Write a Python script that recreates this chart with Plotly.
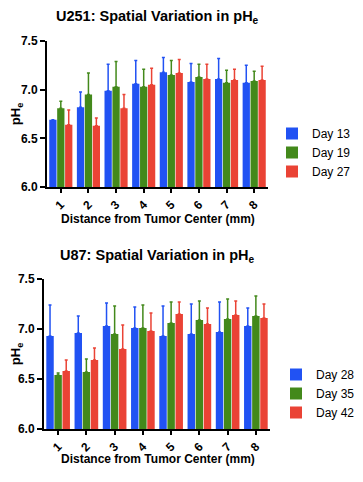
import plotly.graph_objects as go

categories = [1, 2, 3, 4, 5, 6, 7, 8]
tick_labels = ["1", "2", "3", "4", "5", "6", "7", "8"]

# U251 (top)
u251_names = ["Day 13", "Day 19", "Day 27"]
u251_d13 = [6.69, 6.82, 6.99, 7.06, 7.18, 7.08, 7.11, 7.07]
u251_d13_err = [0.00, 0.155, 0.27, 0.24, 0.15, 0.19, 0.21, 0.18]
u251_d19 = [6.81, 6.95, 7.03, 7.03, 7.15, 7.13, 7.07, 7.09]
u251_d19_err = [0.07, 0.22, 0.26, 0.18, 0.15, 0.13, 0.13, 0.10]
u251_d27 = [6.64, 6.63, 6.81, 7.05, 7.17, 7.11, 7.10, 7.10]
u251_d27_err = [0.15, 0.08, 0.14, 0.17, 0.14, 0.15, 0.11, 0.14]

# U87 (bottom)
u87_names = ["Day 28", "Day 35", "Day 42"]
u87_d28 = [6.93, 6.96, 7.03, 7.01, 6.93, 6.95, 6.97, 7.03]
u87_d28_err = [0.31, 0.17, 0.23, 0.21, 0.30, 0.30, 0.30, 0.18]
u87_d35 = [6.54, 6.57, 6.95, 7.01, 7.06, 7.09, 7.10, 7.13]
u87_d35_err = [0.02, 0.13, 0.28, 0.23, 0.21, 0.19, 0.20, 0.20]
u87_d42 = [6.58, 6.69, 6.80, 6.98, 7.15, 7.05, 7.14, 7.11]
u87_d42_err = [0.11, 0.12, 0.24, 0.18, 0.12, 0.16, 0.14, 0.14]

x_title = "Distance from Tumor Center (mm)"
y_title = "pH<sub>e</sub>"
titles = ["U251: Spatial Variation in pH<sub>e</sub>", "U87: Spatial Variation in pH<sub>e</sub>"]

colors = ["#2152F3", "#43891B", "#EA4335"]

# page has an 8px body margin: the figure fills the window inside it
OFF = 8
W, H = 363 - 2 * OFF, 482 - 2 * OFF

def fx(px):
    return (px - OFF) / W

def fy(py):
    return 1 - (py - OFF) / H

fig = go.Figure()

def add_series(vals, errs, name, color, xa, ya, legend):
    fig.add_trace(go.Bar(
        x=categories, y=vals, name=name, marker_color=color,
        marker_line_width=0, xaxis=xa, yaxis=ya, legend=legend,
        error_y=dict(type="data", symmetric=False, array=errs,
                     arrayminus=[0] * len(errs), color=color,
                     thickness=1.5, width=1.5),
    ))

top = [(u251_d13, u251_d13_err), (u251_d19, u251_d19_err), (u251_d27, u251_d27_err)]
bot = [(u87_d28, u87_d28_err), (u87_d35, u87_d35_err), (u87_d42, u87_d42_err)]
for (v, e), n, c in zip(top, u251_names, colors):
    add_series(v, e, n, c, "x", "y", "legend")
for (v, e), n, c in zip(bot, u87_names, colors):
    add_series(v, e, n, c, "x2", "y2", "legend2")

font = "Liberation Sans, Arial, sans-serif"
tickfont = dict(family=font, size=12, color="black", weight="bold")

def yaxis(domain, anchor):
    return dict(domain=domain, anchor=anchor, range=[6.0, 7.5], automargin=False,
                tickvals=[6.0, 6.5, 7.0, 7.5], ticktext=["6.0", "6.5", "7.0", "7.5"],
                showline=True, linecolor="black", linewidth=2,
                ticks="outside", ticklen=5, tickwidth=2, tickcolor="black",
                showgrid=False, zeroline=False, tickfont=tickfont,
                title=dict(text=y_title, font=dict(family=font, size=13, color="black", weight="bold"),
                           standoff=6))

def xaxis(domain, anchor):
    return dict(domain=domain, anchor=anchor, range=[0.5, 8.5], automargin=False,
                tickvals=categories, ticktext=tick_labels, tickangle=-45,
                showline=True, linecolor="black", linewidth=2,
                ticks="outside", ticklen=4, tickwidth=2, tickcolor="black",
                showgrid=False, zeroline=False, tickfont=tickfont)

leg_font = dict(family=font, size=12, color="black")

def ann(text, x, y, size):
    return dict(text=text, x=fx(x), y=fy(y), xref="paper", yref="paper",
                showarrow=False, yanchor="middle", xanchor="center",
                font=dict(family=font, size=size, color="black", weight="bold"))

fig.update_layout(
    template="none",
    width=W, height=H,
    margin=dict(l=0, r=0, t=0, b=0, pad=0, autoexpand=False),
    paper_bgcolor="white", plot_bgcolor="white",
    barmode="group", bargap=0.14, bargroupgap=0.08,
    showlegend=True,
    xaxis=xaxis([fx(47), fx(268)], "y"),
    yaxis=yaxis([fy(187), fy(41)], "x"),
    xaxis2=xaxis([fx(44), fx(270)], "y2"),
    yaxis2=yaxis([fy(429), fy(279)], "x2"),
    legend=dict(x=fx(272), y=fy(119), xanchor="left", yanchor="top",
                font=leg_font, bgcolor="rgba(0,0,0,0)", tracegroupgap=0,
                itemwidth=30),
    legend2=dict(x=fx(276), y=fy(360), xanchor="left", yanchor="top",
                 font=leg_font, bgcolor="rgba(0,0,0,0)", tracegroupgap=0,
                 itemwidth=30),
    annotations=[
        ann(titles[0], 157, 17, 14.5),
        ann(titles[1], 157, 256, 14.5),
        ann(x_title, 158, 219, 12),
        ann(x_title, 158, 459, 12),
    ],
)

fig.write_html("out.html")
